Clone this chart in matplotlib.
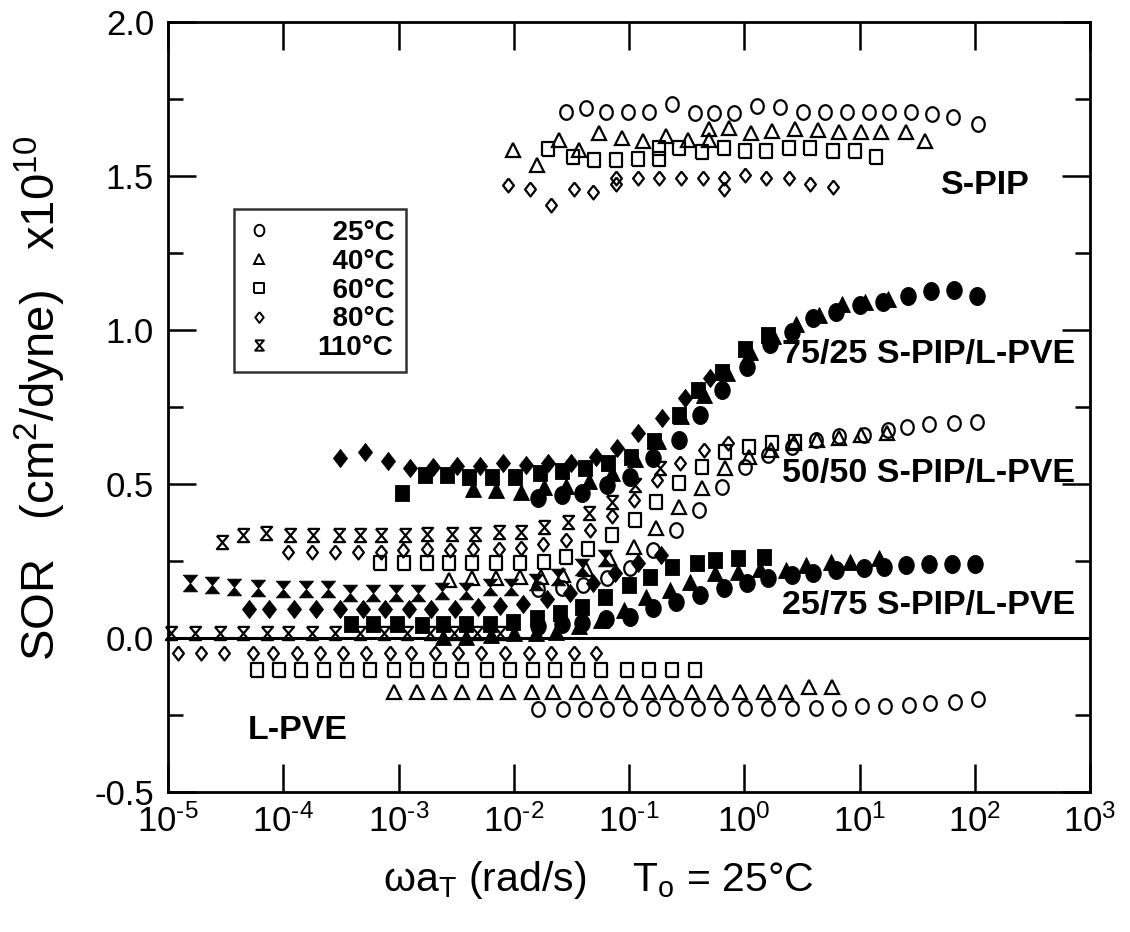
import numpy as np
import matplotlib
matplotlib.use("Agg")
import matplotlib.pyplot as plt
from matplotlib.lines import Line2D
from matplotlib.ticker import FixedLocator, NullLocator, FuncFormatter

plt.rcParams['font.family'] = ['Liberation Sans', 'DejaVu Sans']
plt.rcParams['mathtext.fontset'] = 'custom'
plt.rcParams['mathtext.rm'] = 'Liberation Sans'
plt.rcParams['mathtext.it'] = 'Liberation Sans:italic'
plt.rcParams['mathtext.bf'] = 'Liberation Sans:bold'

# ---- data: log10(omega*aT) and SOR (x1e10 cm^2/dyne) ----
# S-PIP (open)
spip_25_lx = [-1.55, -1.37, -1.20, -1.01, -0.83, -0.63, -0.43, -0.26, -0.09, 0.11,
              0.31, 0.51, 0.70, 0.89, 1.08, 1.26, 1.45, 1.63, 1.81, 2.03]
spip_25_y = [1.708, 1.721, 1.708, 1.708, 1.708, 1.735, 1.706, 1.706, 1.706, 1.727,
             1.724, 1.708, 1.708, 1.708, 1.708, 1.708, 1.708, 1.700, 1.690, 1.668]
spip_40_lx = [-2.01, -1.80, -1.61, -1.43, -1.26, -1.06, -0.88, -0.68, -0.49, -0.31,
              -0.31, -0.13, 0.06, 0.24, 0.44, 0.64, 0.82, 1.01, 1.19, 1.40, 1.57]
spip_40_y = [1.584, 1.535, 1.616, 1.584, 1.638, 1.624, 1.613, 1.630, 1.616, 1.654,
             1.616, 1.656, 1.638, 1.645, 1.654, 1.648, 1.643, 1.643, 1.643, 1.643, 1.613]
spip_60_lx = [-1.70, -1.49, -1.30, -1.11, -0.92, -0.74, -0.74, -0.57, -0.37, -0.18,
              0.01, 0.19, 0.39, 0.57, 0.77, 0.96, 1.14]
spip_60_y = [1.589, 1.562, 1.551, 1.551, 1.556, 1.591, 1.556, 1.591, 1.578, 1.591,
             1.580, 1.580, 1.591, 1.591, 1.580, 1.580, 1.562]
spip_80_lx = [-2.05, -1.86, -1.68, -1.48, -1.31, -1.11, -1.11, -0.92, -0.74, -0.55,
              -0.36, -0.18, -0.18, 0.01, 0.19, 0.39, 0.57, 0.77]
spip_80_y = [1.470, 1.459, 1.405, 1.459, 1.448, 1.494, 1.475, 1.492, 1.492, 1.492,
             1.492, 1.494, 1.459, 1.502, 1.494, 1.492, 1.475, 1.464]

# 75/25 S-PIP/L-PVE (filled)
b75_25_lx = [-1.79, -1.58, -1.41, -1.19, -0.99, -0.79, -0.57, -0.38, -0.19, 0.02,
             0.22, 0.41, 0.60, 0.80, 1.00, 1.20, 1.42, 1.62, 1.82, 2.02]
b75_25_y = [0.454, 0.464, 0.472, 0.497, 0.524, 0.583, 0.643, 0.724, 0.805, 0.881,
            0.955, 0.994, 1.038, 1.059, 1.081, 1.090, 1.110, 1.125, 1.130, 1.110]
b75_40_lx = [-2.35, -2.15, -1.94, -1.74, -1.55, -1.35, -1.15, -0.95, -0.75, -0.55,
             -0.35, -0.15, 0.05, 0.25, 0.45, 0.65, 0.85, 1.05, 1.25]
b75_40_y = [0.483, 0.481, 0.475, 0.490, 0.495, 0.510, 0.535, 0.580, 0.640, 0.720,
            0.790, 0.860, 0.930, 0.980, 1.020, 1.050, 1.085, 1.090, 1.100]
b75_60_lx = [-2.97, -2.77, -2.58, -2.39, -2.19, -1.99, -1.77, -1.58, -1.38, -1.18,
             -0.98, -0.78, -0.57, -0.40, -0.19, 0.01, 0.21]
b75_60_y = [0.470, 0.530, 0.530, 0.524, 0.524, 0.524, 0.535, 0.543, 0.551, 0.567,
            0.587, 0.640, 0.724, 0.805, 0.865, 0.937, 0.984]
b75_80_lx = [-3.51, -3.29, -3.09, -2.90, -2.70, -2.49, -2.29, -2.09, -1.89, -1.70,
             -1.50, -1.29, -1.10, -0.92, -0.71, -0.51, -0.30]
b75_80_y = [0.584, 0.605, 0.576, 0.551, 0.556, 0.558, 0.558, 0.567, 0.562, 0.567,
            0.567, 0.587, 0.616, 0.665, 0.713, 0.778, 0.843]

# 50/50 S-PIP/L-PVE (open)
b50_25_lx = [-1.79, -1.58, -1.40, -1.19, -0.99, -0.79, -0.59, -0.39, -0.19, 0.01,
             0.21, 0.41, 0.62, 0.82, 1.04, 1.25, 1.41, 1.60, 1.82, 2.02]
b50_25_y = [0.158, 0.161, 0.172, 0.194, 0.226, 0.286, 0.351, 0.416, 0.489, 0.556,
            0.594, 0.621, 0.643, 0.656, 0.659, 0.675, 0.686, 0.695, 0.699, 0.702]
b50_40_lx = [-2.56, -2.36, -2.15, -1.95, -1.76, -1.57, -1.37, -1.17, -0.96, -0.77,
             -0.57, -0.37, -0.17, 0.04, 0.23, 0.43, 0.63, 0.82, 1.01, 1.24]
b50_40_y = [0.188, 0.194, 0.194, 0.197, 0.199, 0.205, 0.225, 0.260, 0.296, 0.356,
            0.426, 0.486, 0.551, 0.589, 0.610, 0.632, 0.643, 0.650, 0.659, 0.665]
b50_60_lx = [-3.16, -2.95, -2.75, -2.56, -2.36, -2.15, -1.95, -1.74, -1.55, -1.36,
             -1.15, -0.95, -0.77, -0.57, -0.37, -0.17, 0.04, 0.24, 0.44]
b50_60_y = [0.243, 0.243, 0.243, 0.243, 0.243, 0.243, 0.245, 0.248, 0.264, 0.288,
            0.334, 0.383, 0.443, 0.504, 0.556, 0.605, 0.621, 0.634, 0.637]
b50_80_lx = [-3.96, -3.75, -3.55, -3.35, -3.15, -2.96, -2.75, -2.55, -2.35, -2.13,
             -1.94, -1.75, -1.55, -1.34, -1.15, -0.96, -0.76, -0.56, -0.35, -0.14]
b50_80_y = [0.280, 0.280, 0.280, 0.280, 0.280, 0.286, 0.288, 0.286, 0.288, 0.288,
            0.291, 0.305, 0.318, 0.351, 0.397, 0.448, 0.513, 0.567, 0.610, 0.632]
b50_110_lx = [-4.53, -4.35, -4.15, -3.94, -3.74, -3.52, -3.33, -3.15, -2.94, -2.75,
              -2.54, -2.34, -2.13, -1.94, -1.74, -1.53, -1.35, -1.15, -0.95, -0.73]
b50_110_y = [0.313, 0.334, 0.342, 0.334, 0.334, 0.334, 0.334, 0.334, 0.334, 0.338,
             0.338, 0.338, 0.345, 0.345, 0.361, 0.378, 0.407, 0.443, 0.497, 0.551]

# 25/75 S-PIP/L-PVE (filled)
b25_25_lx = [-1.79, -1.58, -1.41, -1.20, -0.99, -0.79, -0.59, -0.38, -0.18, 0.02,
             0.21, 0.41, 0.60, 0.80, 1.04, 1.21, 1.40, 1.60, 1.80, 2.00]
b25_25_y = [0.040, 0.045, 0.050, 0.061, 0.069, 0.096, 0.118, 0.140, 0.161, 0.178,
            0.194, 0.205, 0.210, 0.221, 0.226, 0.231, 0.237, 0.240, 0.240, 0.240]
b25_40_lx = [-2.61, -2.41, -2.20, -2.00, -1.81, -1.63, -1.43, -1.24, -1.04, -0.85,
             -0.64, -0.47, -0.25, -0.05, 0.14, 0.36, 0.54, 0.75, 0.92, 1.17]
b25_40_y = [0.004, 0.004, 0.010, 0.015, 0.017, 0.020, 0.040, 0.060, 0.090, 0.134,
            0.156, 0.183, 0.210, 0.215, 0.223, 0.221, 0.237, 0.248, 0.248, 0.259]
b25_60_lx = [-3.41, -3.22, -3.01, -2.80, -2.61, -2.41, -2.21, -2.01, -1.80, -1.60,
             -1.41, -1.21, -1.00, -0.82, -0.63, -0.41, -0.25, -0.05, 0.17]
b25_60_y = [0.045, 0.045, 0.045, 0.042, 0.045, 0.045, 0.045, 0.053, 0.064, 0.080,
            0.102, 0.134, 0.172, 0.199, 0.231, 0.243, 0.253, 0.259, 0.264]
b25_80_lx = [-4.30, -4.12, -3.91, -3.72, -3.51, -3.31, -3.12, -2.91, -2.72, -2.51,
             -2.31, -2.12, -1.92, -1.71, -1.51, -1.31, -1.12, -0.92, -0.72]
b25_80_y = [0.093, 0.093, 0.093, 0.093, 0.093, 0.093, 0.093, 0.093, 0.093, 0.093,
            0.100, 0.104, 0.110, 0.126, 0.145, 0.178, 0.210, 0.243, 0.270]
b25_110_lx = [-4.81, -4.62, -4.43, -4.22, -4.00, -3.80, -3.61, -3.42, -3.22, -3.02,
              -2.83, -2.62, -2.41, -2.21, -2.02, -1.81, -1.62, -1.41, -1.21]
b25_110_y = [0.178, 0.172, 0.165, 0.161, 0.158, 0.158, 0.158, 0.147, 0.147, 0.147,
             0.147, 0.154, 0.154, 0.165, 0.167, 0.183, 0.199, 0.232, 0.259]

# L-PVE (open)
lpve_25_lx = [-1.79, -1.57, -1.38, -1.19, -0.99, -0.79, -0.59, -0.40, -0.20, 0.01,
              0.21, 0.41, 0.62, 0.82, 1.02, 1.22, 1.43, 1.61, 1.83, 2.03]
lpve_25_y = [-0.232, -0.232, -0.232, -0.232, -0.228, -0.228, -0.228, -0.228, -0.228, -0.228,
             -0.228, -0.228, -0.228, -0.228, -0.221, -0.221, -0.218, -0.210, -0.207, -0.199]
lpve_40_lx = [-3.04, -2.84, -2.65, -2.45, -2.25, -2.05, -1.84, -1.66, -1.45, -1.25,
              -1.05, -0.83, -0.66, -0.45, -0.25, -0.04, 0.17, 0.36, 0.56, 0.76]
lpve_40_y = [-0.174, -0.174, -0.174, -0.174, -0.174, -0.174, -0.174, -0.174, -0.174, -0.174,
             -0.174, -0.174, -0.174, -0.174, -0.174, -0.174, -0.174, -0.174, -0.160, -0.160]
lpve_60_lx = [-4.23, -4.04, -3.85, -3.65, -3.45, -3.25, -3.04, -2.84, -2.64, -2.45,
              -2.23, -2.03, -1.83, -1.64, -1.44, -1.24, -1.02, -0.83, -0.63, -0.43]
lpve_60_y = [-0.104, -0.104, -0.104, -0.104, -0.104, -0.104, -0.104, -0.104, -0.104, -0.104,
             -0.104, -0.104, -0.104, -0.104, -0.104, -0.104, -0.104, -0.104, -0.104, -0.104]
lpve_80_lx = [-4.91, -4.71, -4.51, -4.26, -4.09, -3.88, -3.68, -3.48, -3.28, -3.07,
              -2.89, -2.68, -2.48, -2.28, -2.08, -1.87, -1.68, -1.48, -1.29]
lpve_80_y = [-0.050, -0.050, -0.050, -0.050, -0.050, -0.050, -0.050, -0.050, -0.050, -0.050,
             -0.050, -0.050, -0.050, -0.050, -0.050, -0.050, -0.050, -0.050, -0.050]
lpve_110_lx = [-4.97, -4.77, -4.55, -4.35, -4.14, -3.96, -3.75, -3.55, -3.33, -3.13,
               -2.93, -2.73, -2.52, -2.32, -2.12]
lpve_110_y = [0.015, 0.015, 0.015, 0.015, 0.015, 0.015, 0.015, 0.015, 0.015, 0.015,
              0.015, 0.015, 0.015, 0.015, 0.015]

temps = ['25°C', '40°C', '60°C', '80°C', '110°C']

# ---- marker shapes (slightly taller than wide, like the scanned original) ----
t = np.linspace(0, 2 * np.pi, 41)
oval = list(zip(0.86 * np.cos(t), np.sin(t)))
box = [(-0.86, -1), (0.86, -1), (0.86, 1), (-0.86, 1), (-0.86, -1)]
hourglass = [(-0.85, 1), (0.85, 1), (-0.85, -1), (0.85, -1), (-0.85, 1)]
diamond = [(0, 1), (0.78, 0), (0, -1), (-0.78, 0), (0, 1)]
shapes = {'25°C': oval, '40°C': '^', '60°C': box, '80°C': diamond, '110°C': hourglass}
open_size = {'25°C': 10.5, '40°C': 9.5, '60°C': 9.8, '80°C': 10.0, '110°C': 9.5}
fill_size = {'25°C': 13.0, '40°C': 12.0, '60°C': 12.0, '80°C': 13.0, '110°C': 12.0}

fig = plt.figure(figsize=(11.3, 9.32), dpi=100)
ax = fig.add_axes([168 / 1130, 1 - 792 / 932, 922 / 1130, 770 / 932])


def draw(lx, y, temp, filled):
    x = 10 ** np.array(lx)
    if filled:
        ax.plot(x, y, ls='none', marker=shapes[temp], ms=fill_size[temp],
                mfc='k', mec='k', mew=0.6, clip_on=False, zorder=4)
    else:
        ax.plot(x, y, ls='none', marker=shapes[temp], ms=open_size[temp],
                mfc='none', mec='k', mew=1.6, clip_on=False, zorder=3)


# open sets
draw(spip_80_lx, spip_80_y, '80°C', False)
draw(spip_60_lx, spip_60_y, '60°C', False)
draw(spip_40_lx, spip_40_y, '40°C', False)
draw(spip_25_lx, spip_25_y, '25°C', False)

draw(lpve_110_lx, lpve_110_y, '110°C', False)
draw(lpve_80_lx, lpve_80_y, '80°C', False)
draw(lpve_60_lx, lpve_60_y, '60°C', False)
draw(lpve_40_lx, lpve_40_y, '40°C', False)
draw(lpve_25_lx, lpve_25_y, '25°C', False)

draw(b50_110_lx, b50_110_y, '110°C', False)
draw(b50_80_lx, b50_80_y, '80°C', False)
draw(b50_60_lx, b50_60_y, '60°C', False)
draw(b50_40_lx, b50_40_y, '40°C', False)
draw(b50_25_lx, b50_25_y, '25°C', False)

# filled sets
draw(b75_80_lx, b75_80_y, '80°C', True)
draw(b75_60_lx, b75_60_y, '60°C', True)
draw(b75_40_lx, b75_40_y, '40°C', True)
draw(b75_25_lx, b75_25_y, '25°C', True)

draw(b25_110_lx, b25_110_y, '110°C', True)
draw(b25_80_lx, b25_80_y, '80°C', True)
draw(b25_60_lx, b25_60_y, '60°C', True)
draw(b25_40_lx, b25_40_y, '40°C', True)
draw(b25_25_lx, b25_25_y, '25°C', True)

ax.axhline(0, color='k', lw=2.2, zorder=2)

ax.set_xscale('log')
ax.set_xlim(1e-5, 1e3)
ax.set_ylim(-0.5, 2.0)

ax.xaxis.set_major_locator(FixedLocator([10.0 ** k for k in range(-5, 4)]))
ax.xaxis.set_minor_locator(NullLocator())
ax.xaxis.set_major_formatter(FuncFormatter(
    lambda v, p: r'$\mathregular{10^{%s}}$' % str(int(round(np.log10(v)))).replace('-', '\u2010')))
ax.yaxis.set_major_locator(FixedLocator([-0.5, 0.0, 0.5, 1.0, 1.5, 2.0]))
ax.yaxis.set_minor_locator(FixedLocator([-0.25, 0.25, 0.75, 1.25, 1.75]))
ax.yaxis.set_major_formatter(FuncFormatter(lambda v, p: '%.1f' % v))

ax.tick_params(which='both', direction='in', top=True, right=True, width=1.8,
               labelsize=25)
ax.tick_params(which='major', length=20)
ax.tick_params(which='minor', length=11)
ax.tick_params(axis='x', pad=9)
ax.tick_params(axis='y', pad=10)
for s in ax.spines.values():
    s.set_linewidth(2.0)

ax.set_xlabel(r'$\mathregular{\omega}$a$_\mathregular{T}$ (rad/s)    T$_\mathregular{o}$ = 25°C',
              fontsize=29.5, va='center')
ax.xaxis.set_label_coords((598 - 168) / 922, (792 - 880) / 770)
ax.set_ylabel(r'SOR   (cm$^\mathregular{2}$/dyne)   x10$^\mathregular{10}$',
              fontsize=34, va='center')
ax.yaxis.set_label_coords((40 - 168) / 922, (792 - 398) / 770)

# sample labels
lab = dict(fontsize=24.5, fontweight='bold', ha='right', va='center')
ax.text(10 ** 2.48, 1.47, 'S-PIP', **lab)
ax.text(10 ** 2.87, 0.92, '75/25 S-PIP/L-PVE', **lab)
ax.text(10 ** 2.87, 0.535, '50/50 S-PIP/L-PVE', **lab)
ax.text(10 ** 2.87, 0.105, '25/75 S-PIP/L-PVE', **lab)
ax.text(10 ** -4.31, -0.30, 'L-PVE', fontsize=24.5, fontweight='bold', ha='left', va='center')

# legend with open symbols
handles = [Line2D([], [], ls='none', marker=shapes[k], ms=open_size[k] * 0.78,
                  mfc='none', mec='k', mew=1.4) for k in temps]
labels = ['  ' + k if len(k) == 4 else k for k in temps]
leg = ax.legend(handles, labels, loc='upper left',
                bbox_to_anchor=(234 / 1130, 1 - 209 / 932), bbox_transform=fig.transFigure,
                borderaxespad=0, frameon=True, fancybox=False, edgecolor='k',
                handlelength=1.0, handletextpad=1.6, labelspacing=0.1,
                borderpad=0.4, prop={'weight': 'bold', 'size': 20})
leg.get_frame().set_linewidth(1.8)

fig.savefig('out.png', dpi=100)
